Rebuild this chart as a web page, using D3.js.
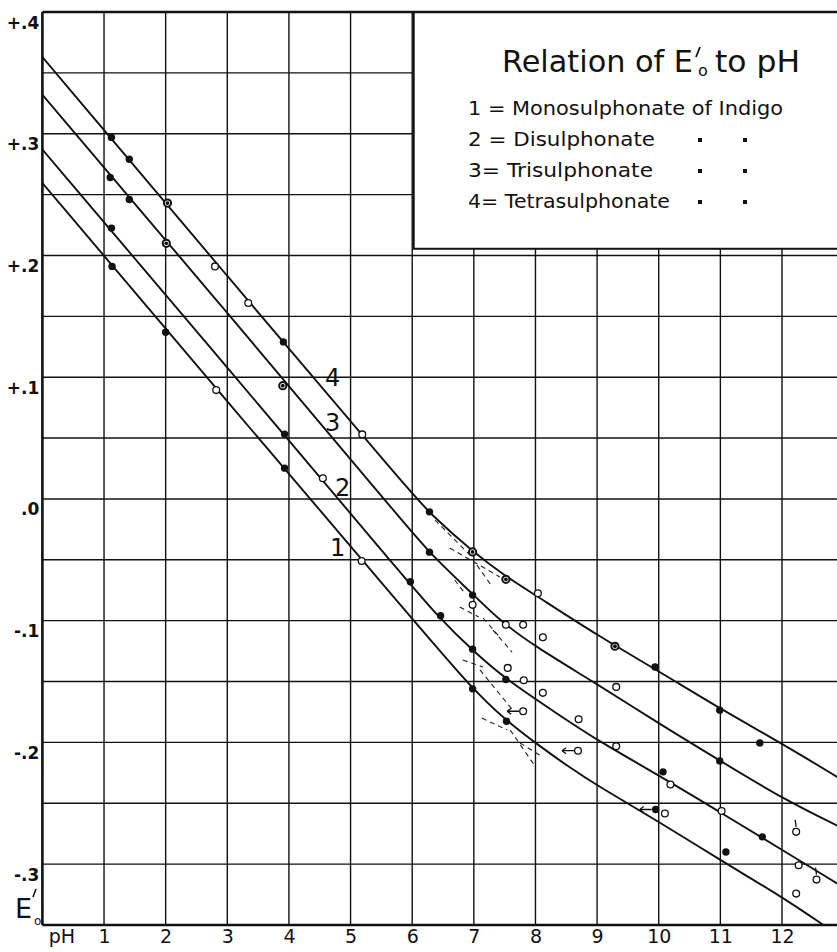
<!DOCTYPE html>
<html>
<head>
<meta charset="utf-8">
<script src="https://cdn.jsdelivr.net/npm/d3@7/dist/d3.min.js"></script>
<style>
  html, body { margin: 0; padding: 0; background: #fff; }
  svg { display: block; }
  text { font-family: "DejaVu Sans", sans-serif; fill: #111; }
</style>
</head>
<body>
<svg id="chart" width="837" height="952"></svg>
<script>
// ---------------- DATA ----------------
const xTicks = [1,2,3,4,5,6,7,8,9,10,11,12];
const yTickValues = [0.4,0.3,0.2,0.1,0.0,-0.1,-0.2,-0.3];
const yTickLabels = ["+.4","+.3","+.2","+.1",".0","-.1","-.2","-.3"];
const yGrid = [0.35,0.3,0.25,0.2,0.15,0.1,0.05,0,-0.05,-0.1,-0.15,-0.2,-0.25,-0.3];

const curveNames = ["1","2","3","4"];
// curve 1 = Monosulphonate, 2 = Di, 3 = Tri, 4 = Tetra   [pH, E'0]
const curve1 = [[0,0.2595],[3,0.080],[6.0,-0.0985],[6.98,-0.1565],[7.53,-0.1823],[8.0,-0.2005],[8.55,-0.2205],[9.0,-0.2355],[10.0,-0.265],[11.0,-0.2968],[12.0,-0.3269],[12.7,-0.351]];
const curve2 = [[0,0.287],[3,0.108],[5.79,-0.0595],[6.45,-0.0985],[6.98,-0.1245],[7.52,-0.1483],[8.39,-0.1777],[9.0,-0.1982],[10.0,-0.227],[11.0,-0.2574],[12.0,-0.2883],[12.9,-0.316]];
const curve3 = [[0,0.332],[3,0.153],[5.79,-0.015],[6.28,-0.0445],[6.98,-0.078],[7.42,-0.100],[8.0,-0.1215],[9.0,-0.152],[10.0,-0.1845],[11.0,-0.2152],[12.0,-0.2459],[12.9,-0.2685]];
const curve4 = [[0,0.363],[3,0.183],[6.0,0.004],[6.28,-0.0115],[6.98,-0.0435],[7.5,-0.063],[8.0,-0.079],[9.0,-0.112],[10.0,-0.1415],[11.0,-0.1725],[12.0,-0.201],[12.9,-0.2285]];

// curve number labels [pH, E]
const curveLabelPos = [[4.79,-0.0395],[4.87,0.0098],[4.71,0.0632],[4.71,0.1002]];

// observed points
const filledPts = [[1.12,0.297],[1.41,0.279],[3.91,0.129],[6.28,-0.0106],[9.94,-0.138],[10.99,-0.1735],[11.64,-0.2004],
  [1.10,0.264],[1.41,0.246],[6.28,-0.0437],[6.98,-0.079],[10.99,-0.2152],
  [1.12,0.2225],[3.93,0.0532],[5.97,-0.068],[6.46,-0.096],[6.98,-0.1234],[7.52,-0.1483],[10.07,-0.2242],[11.68,-0.2776],
  [1.13,0.191],[2.0,0.137],[3.93,0.0253],[6.98,-0.156],[7.53,-0.1826],[9.95,-0.2551],[11.09,-0.29]];
const ringPts = [[2.03,0.243],[2.01,0.210],[3.9,0.093],[6.98,-0.0435],[7.52,-0.066],[9.29,-0.121]];
const openPts = [[2.8,0.191],[3.34,0.161],[5.19,0.053],[2.82,0.0894],[4.55,0.017],[5.18,-0.051],[8.04,-0.0775],[6.98,-0.087],
  [7.52,-0.1034],[7.8,-0.1034],[8.12,-0.1136],[9.31,-0.1544],[7.55,-0.1388],[7.81,-0.1489],[8.12,-0.1593],[8.7,-0.181],
  [7.8,-0.1744],[8.69,-0.2068],[9.31,-0.2031],[10.19,-0.2346],[10.1,-0.2584],[11.02,-0.2563],[12.23,-0.2735],[12.27,-0.3009],
  [12.56,-0.3127],[12.23,-0.3242]];
const arrowPts = [[7.8,-0.1744],[8.69,-0.2068],[9.95,-0.2551]];
const tickPts = [[12.23,-0.2735],[12.56,-0.3127]];

// dashed construction lines [pH1,E1,pH2,E2]
const dashedSegs = [[6.37,-0.0174,6.97,-0.0477],[6.61,-0.0403,7.42,-0.0641],[7.05,-0.0543,7.29,-0.0715],
  [6.69,-0.0666,6.84,-0.0765],[6.77,-0.0888,7.08,-0.0969],[7.15,-0.0978,7.42,-0.1134],[7.31,-0.1077,7.62,-0.1258],
  [6.82,-0.1323,7.15,-0.1381],[7.1,-0.1405,7.63,-0.1734],[7.13,-0.18,7.54,-0.1898],[7.59,-0.1898,7.97,-0.2178],
  [7.75,-0.2005,8.12,-0.212]];

const titleText = "Relation of E";
const legendLines = ["1 = Monosulphonate of Indigo","2 = Disulphonate","3= Trisulphonate","4= Tetrasulphonate"];

// ---------------- DRAW ----------------
const W = 837, H = 952;
const svg = d3.select("#chart");
svg.append("rect").attr("width", W).attr("height", H).attr("fill", "#fff");

const x = d3.scaleLinear().domain([0, 12]).range([42.4, 782]);
const y = d3.scaleLinear().domain([-0.35, 0.4]).range([925, 12]);
const xR = W;

svg.append("defs").append("clipPath").attr("id", "plotclip")
  .append("rect").attr("x", x(0)).attr("y", y(0.4)).attr("width", xR - x(0)).attr("height", y(-0.35) - y(0.4));

// grid
const grid = svg.append("g").attr("stroke", "#111").attr("stroke-width", 1.4);
grid.selectAll("line.v").data(xTicks).join("line")
  .attr("x1", d => x(d)).attr("x2", d => x(d)).attr("y1", y(-0.35)).attr("y2", y(0.4));
grid.selectAll("line.h").data(yGrid).join("line")
  .attr("x1", x(0)).attr("x2", xR).attr("y1", d => y(d)).attr("y2", d => y(d));

// legend box (covers grid)
const boxL = x(6) + 1.5, boxB = y(0.2055);
svg.append("rect").attr("x", boxL).attr("y", y(0.4)).attr("width", xR - boxL + 5).attr("height", boxB - y(0.4))
  .attr("fill", "#fff").attr("stroke", "#111").attr("stroke-width", 2);

// frame
const frame = svg.append("g").attr("stroke", "#111").attr("stroke-width", 2.6);
frame.append("line").attr("x1", x(0)).attr("x2", x(0)).attr("y1", y(0.4)).attr("y2", y(-0.35));
frame.append("line").attr("x1", x(0)).attr("x2", xR).attr("y1", y(-0.35)).attr("y2", y(-0.35));
frame.append("line").attr("x1", x(0)).attr("x2", xR).attr("y1", y(0.4)).attr("y2", y(0.4));

// axes labels via d3 axes
const xAxis = d3.axisBottom(x).tickValues(xTicks).tickSize(0).tickPadding(4).tickFormat(d3.format("d"));
const gx = svg.append("g").attr("transform", `translate(0,${y(-0.35)})`).call(xAxis);
gx.select(".domain").remove();
gx.selectAll("text").attr("font-size", 19).attr("fill", "#111").style("font-family", "DejaVu Sans, sans-serif");

const yAxis = d3.axisLeft(y).tickValues(yTickValues).tickSize(0).tickPadding(3)
  .tickFormat((d, i) => yTickLabels[i]);
const gy = svg.append("g").attr("transform", `translate(${x(0)},0)`).call(yAxis);
gy.select(".domain").remove();
gy.selectAll("text").attr("font-size", 17).attr("font-weight", "bold").attr("dy", 16).attr("fill", "#111")
  .style("font-family", "DejaVu Sans, sans-serif");

svg.append("text").attr("x", 62).attr("y", 943).attr("text-anchor", "middle").attr("font-size", 19).text("pH");
// E'0 label
svg.append("text").attr("x", 15).attr("y", 918).attr("font-size", 27).text("E");
svg.append("path").attr("d", "M36,889 L33,897").attr("stroke", "#111").attr("stroke-width", 1.6);
svg.append("text").attr("x", 34).attr("y", 925).attr("font-size", 12).text("o");

// plot content
const plot = svg.append("g").attr("clip-path", "url(#plotclip)");
const line = d3.line().x(d => x(d[0])).y(d => y(d[1])).curve(d3.curveBasis);
[curve1, curve2, curve3, curve4].forEach(c => {
  plot.append("path").attr("d", line(c)).attr("fill", "none").attr("stroke", "#111").attr("stroke-width", 1.9);
});

plot.selectAll("line.dash").data(dashedSegs).join("line")
  .attr("x1", d => x(d[0])).attr("y1", d => y(d[1])).attr("x2", d => x(d[2])).attr("y2", d => y(d[3]))
  .attr("stroke", "#222").attr("stroke-width", 1.1).attr("stroke-dasharray", "5,4");

// arrows and ticks
plot.selectAll("path.arrow").data(arrowPts).join("path")
  .attr("d", d => { const px = x(d[0]), py = y(d[1]);
    return `M${px-4},${py} L${px-16},${py} M${px-16},${py} L${px-12},${py-3} M${px-16},${py} L${px-12},${py+3}`; })
  .attr("stroke", "#111").attr("stroke-width", 1.3).attr("fill", "none");
plot.selectAll("line.tick").data(tickPts).join("line")
  .attr("x1", d => x(d[0])).attr("x2", d => x(d[0]) - 1).attr("y1", d => y(d[1]) - 5).attr("y2", d => y(d[1]) - 12)
  .attr("stroke", "#111").attr("stroke-width", 1.3);

plot.selectAll("circle.open").data(openPts).join("circle")
  .attr("cx", d => x(d[0])).attr("cy", d => y(d[1])).attr("r", 3.4)
  .attr("fill", "#fff").attr("stroke", "#111").attr("stroke-width", 1.3);
plot.selectAll("circle.ring").data(ringPts).join("circle")
  .attr("cx", d => x(d[0])).attr("cy", d => y(d[1])).attr("r", 3.6)
  .attr("fill", "#fff").attr("stroke", "#111").attr("stroke-width", 2);
plot.selectAll("circle.ringdot").data(ringPts).join("circle")
  .attr("cx", d => x(d[0])).attr("cy", d => y(d[1])).attr("r", 1.9).attr("fill", "#111");
plot.selectAll("circle.filled").data(filledPts).join("circle")
  .attr("cx", d => x(d[0])).attr("cy", d => y(d[1])).attr("r", 3.7).attr("fill", "#111");

// curve labels
svg.selectAll("text.clab").data(curveLabelPos).join("text")
  .attr("x", d => x(d[0])).attr("y", d => y(d[1])).attr("dy", "0.36em")
  .attr("text-anchor", "middle").attr("font-size", 24).text((d, i) => curveNames[i]);

// legend text
const lg = svg.append("g");
lg.append("text").attr("x", 502).attr("y", 72).attr("font-size", 30).attr("textLength", 191)
  .attr("lengthAdjust", "spacingAndGlyphs").text(titleText);
lg.append("path").attr("d", "M700,47 L696,57").attr("stroke", "#111").attr("stroke-width", 1.8);
lg.append("text").attr("x", 698).attr("y", 76).attr("font-size", 16).text("o");
lg.append("text").attr("x", 715).attr("y", 72).attr("font-size", 30).attr("textLength", 85)
  .attr("lengthAdjust", "spacingAndGlyphs").text("to pH");

const lgWidths = [315, 187, 185, 202];
legendLines.forEach((t, i) => {
  lg.append("text").attr("x", 468).attr("y", 115 + i * 31).attr("font-size", 20)
    .attr("textLength", lgWidths[i]).attr("lengthAdjust", "spacingAndGlyphs").text(t);
  if (i > 0) {
    [700, 745].forEach(dx => lg.append("rect").attr("x", dx - 2).attr("y", 115 + i * 31 - 8)
      .attr("width", 4).attr("height", 4).attr("fill", "#111"));
  }
});
</script>
</body>
</html>
